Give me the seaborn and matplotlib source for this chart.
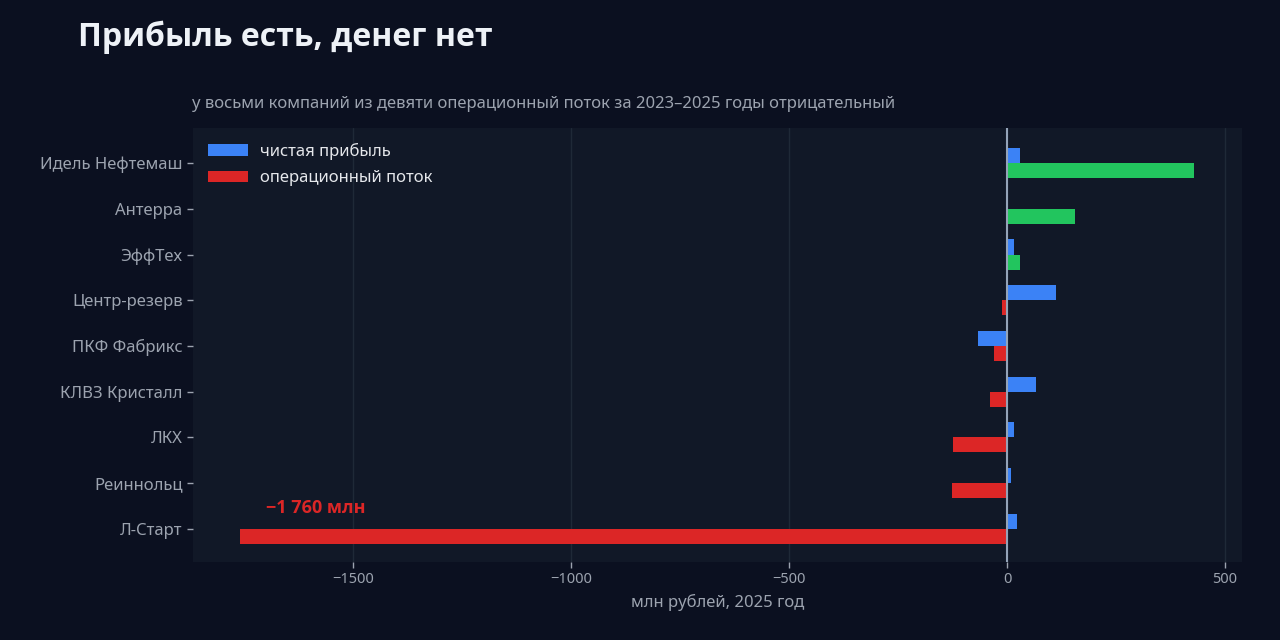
import matplotlib
matplotlib.use("Agg")
import matplotlib.pyplot as plt
import seaborn as sns
import pandas as pd

companies = ["Идель Нефтемаш", "Антерра", "ЭффТех", "Центр-резерв", "ПКФ Фабрикс",
             "КЛВЗ Кристалл", "ЛКХ", "Реиннольц", "Л-Старт"]
net_profit = [30, 0, 16, 112, -67, 66, 16, 9, 23]
op_flow = [430, 156, 30, -12, -30, -39, -124, -126, -1760]
metrics = ["чистая прибыль", "операционный поток"]

BLUE = "#3b82f6"
RED = "#dc2626"
GREEN = "#22c55e"
FIG_BG = "#0b1020"
AX_BG = "#111827"
GRAY = "#9ca3af"

df = pd.DataFrame({
    "company": companies * 2,
    "metric": [metrics[0]] * len(companies) + [metrics[1]] * len(companies),
    "value": net_profit + op_flow,
})

sns.set_theme(style="dark")
plt.rcParams["font.family"] = ["Noto Sans", "DejaVu Sans"]

fig = plt.figure(figsize=(12.8, 6.4), dpi=100, facecolor=FIG_BG)
ax = fig.add_axes([0.1508, 0.1219, 0.8195, 0.6781])
ax.set_facecolor(AX_BG)

sns.barplot(data=df, y="company", x="value", hue="metric", order=companies,
            hue_order=metrics, palette=[BLUE, RED], orient="h", width=0.66,
            dodge=True, saturation=1, ax=ax, legend=True)

# recolor positive operating flow bars green
for cont, metric in zip(ax.containers, metrics):
    if metric == metrics[1]:
        for bar, v in zip(cont, op_flow):
            if v > 0:
                bar.set_facecolor(GREEN)
    for bar in cont:
        bar.set_edgecolor("none")

ax.set_xlim(-1867, 539)
ax.set_ylim(8.73, -0.77)
ax.set_xticks([-1500, -1000, -500, 0, 500])
ax.set_xticklabels(["−1500", "−1000", "−500", "0", "500"])
ax.grid(axis="x", color="#1f2937", linewidth=1)
ax.grid(axis="y", visible=False)
ax.set_axisbelow(True)
ax.axvline(0, color="#94a3b8", linewidth=1.5, zorder=5)
for s in ax.spines.values():
    s.set_visible(False)
ax.tick_params(axis="x", colors=GRAY, labelsize=10.5, length=4, width=1, direction="out", bottom=True)
ax.tick_params(axis="y", colors=GRAY, labelsize=12, length=4, width=1, left=True)
for lbl in ax.get_xticklabels() + ax.get_yticklabels():
    lbl.set_color(GRAY)
ax.set_ylabel("")
ax.set_xlabel("млн рублей, 2025 год", color=GRAY, fontsize=12, labelpad=5)

leg = ax.legend(loc="upper left", frameon=False, fontsize=12, labelcolor="#e5e7eb",
                handlelength=2.4, handleheight=0.7, handletextpad=0.7, labelspacing=0.62,
                borderaxespad=0.5, bbox_to_anchor=(0.0, 1.0))
for h in leg.legend_handles:
    h.set_edgecolor("none")

ax.text(-1700, 8 - 0.46, "−1 760 млн", color=RED, fontsize=13, fontweight="bold",
        family=["Open Sans", "DejaVu Sans"], ha="left", va="center")

fig.text(0.061, 0.942, "Прибыль есть, денег нет", color="#eef2f7", fontsize=23,
         fontweight="bold", family=["Open Sans", "DejaVu Sans"], ha="left", va="center")
fig.text(0.150, 0.838, "у восьми компаний из девяти операционный поток за 2023–2025 годы отрицательный",
         color=GRAY, fontsize=12, ha="left", va="center")

fig.savefig("out.png", dpi=100, facecolor=FIG_BG)
